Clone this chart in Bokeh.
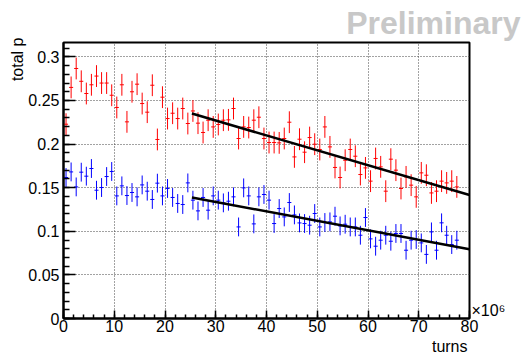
import numpy as np
from bokeh.plotting import figure
from bokeh.models import Range1d, FixedTicker, CustomJSTickFormatter, Title, LinearAxis
from bokeh.embed import file_html
from bokeh.resources import INLINE

# bin centres in units of 10^6 turns
turns = np.arange(78) + 0.5

red_p = [0.2228, 0.2650, 0.2867, 0.2720, 0.2580, 0.2680, 0.2780, 0.2700, 0.2700, 0.2560,
         0.2420, 0.2680, 0.2255, 0.2600, 0.2687, 0.2465, 0.2366, 0.2675, 0.2053, 0.2538,
         0.2293, 0.2354, 0.2293, 0.2408, 0.2236, 0.2380, 0.2240, 0.2133, 0.2274, 0.2197,
         0.2225, 0.2274, 0.2278, 0.2408, 0.2064, 0.2197, 0.2190, 0.2274, 0.2308, 0.2064,
         0.2018, 0.2018, 0.2014, 0.2064, 0.2251, 0.1853, 0.2056, 0.1907, 0.2075, 0.1999,
         0.1938, 0.2197, 0.1968, 0.1732, 0.1617, 0.1815, 0.1938, 0.1861, 0.1651, 0.1727,
         0.1575, 0.1835, 0.1739, 0.1460, 0.1827, 0.1701, 0.1491, 0.1624, 0.1529, 0.1395,
         0.1670, 0.1643, 0.1440, 0.1460, 0.1575, 0.1555, 0.1575, 0.1509]

blue_p = [0.1617, 0.1681, 0.1509, 0.1678, 0.1632, 0.1720, 0.1471, 0.1502, 0.1628, 0.1686,
          0.1406, 0.1521, 0.1410, 0.1445, 0.1395, 0.1532, 0.1460, 0.1365, 0.1552, 0.1406,
          0.1491, 0.1388, 0.1319, 0.1307, 0.1555, 0.1357, 0.1234, 0.1388, 0.1242, 0.1406,
          0.1357, 0.1326, 0.1345, 0.1395, 0.1050, 0.1498, 0.1406, 0.1085, 0.1395, 0.1422,
          0.1357, 0.1089, 0.1261, 0.1165, 0.1330, 0.1188, 0.1096, 0.1089, 0.1070, 0.1204,
          0.1050, 0.1101, 0.1108, 0.1173, 0.1062, 0.1081, 0.1050, 0.1050, 0.0955, 0.1158,
          0.0913, 0.0829, 0.0898, 0.0955, 0.0886, 0.0975, 0.0975, 0.0783, 0.0898, 0.0906,
          0.0867, 0.0735, 0.0993, 0.0783, 0.1097, 0.0955, 0.0848, 0.0898]

red_err = 0.0125
blue_err = 0.0108

fit_x = [25.3, 80.0]
red_fit = [0.2350, 0.1416]
blue_fit = [0.1388, 0.0795]

x_ticks = [0, 10, 20, 30, 40, 50, 60, 70, 80]
y_ticks = [0, 0.05, 0.1, 0.15, 0.2, 0.25, 0.3]

FONT = "Liberation Sans"

p = figure(width=521, height=356, x_range=Range1d(0, 80), y_range=Range1d(0, 0.3165),
           output_backend="svg", toolbar_location=None,
           min_border_left=63, min_border_right=52, min_border_top=42, min_border_bottom=38)
p.background_fill_color = "white"
p.border_fill_color = "white"
p.outline_line_color = "black"
p.outline_line_width = 2

# axes
xa = p.xaxis[0]
xa.ticker = FixedTicker(ticks=x_ticks, minor_ticks=list(np.arange(0, 81, 2)))
ya = p.yaxis[0]
ya.ticker = FixedTicker(ticks=y_ticks, minor_ticks=[round(0.01 * k, 2) for k in range(32)])
ya.formatter = CustomJSTickFormatter(
    code="return tick.toFixed(2).replace(/0+$/, '').replace(/\\.$/, '');")
for ax, mj, mn, so in ((xa, 8, 4, 1), (ya, 12, 6, 4)):
    ax.axis_line_width = 2
    ax.axis_line_color = "black"
    ax.major_tick_in = mj
    ax.major_tick_out = 0
    ax.minor_tick_in = mn
    ax.minor_tick_out = 0
    ax.major_tick_line_width = 1.5
    ax.minor_tick_line_width = 1.5
    ax.major_tick_line_color = "black"
    ax.minor_tick_line_color = "black"
    ax.major_label_text_font = FONT
    ax.major_label_text_font_size = "16px"
    ax.major_label_text_color = "black"
    ax.major_label_standoff = so

# exponent of the x axis, shown as a label on a bare right axis
exp_axis = LinearAxis(ticker=FixedTicker(ticks=[0.009]),
                      formatter=CustomJSTickFormatter(code="return '\u00d710\u2076';"))
exp_axis.axis_line_color = None
exp_axis.major_tick_line_color = None
exp_axis.minor_tick_line_color = None
exp_axis.major_tick_out = 0
exp_axis.major_tick_in = 0
exp_axis.major_label_standoff = 2
exp_axis.major_label_text_font = FONT
exp_axis.major_label_text_font_size = "16px"
exp_axis.major_label_text_color = "black"
p.add_layout(exp_axis, "right")

for g in (p.xgrid[0], p.ygrid[0]):
    g.grid_line_color = "#444444"
    g.grid_line_dash = "1 2"
    g.grid_line_width = 1

# data: error bars
red_lo = [v - red_err for v in red_p]
red_hi = [v + red_err for v in red_p]
blue_lo = [v - blue_err for v in blue_p]
blue_hi = [v + blue_err for v in blue_p]

p.segment(x0=turns, y0=red_lo, x1=turns, y1=red_hi, line_color="#ff0000", line_width=1)
p.segment(x0=turns - 0.4, y0=red_p, x1=turns + 0.4, y1=red_p, line_color="#ff0000", line_width=1)
p.segment(x0=turns, y0=blue_lo, x1=turns, y1=blue_hi, line_color="#0000ff", line_width=1)
p.segment(x0=turns - 0.4, y0=blue_p, x1=turns + 0.4, y1=blue_p, line_color="#0000ff", line_width=1)

# fits
p.line(fit_x, red_fit, line_color="black", line_width=2.5)
p.line(fit_x, blue_fit, line_color="black", line_width=2.5)

# titles
p.title.text = "Preliminary"
p.title.align = "right"
p.title.offset = -51
p.title.standoff = 3
p.title.text_font = FONT
p.title.text_font_size = "32px"
p.title.text_font_style = "bold"
p.title.text_color = "#c8c8c8"

p.add_layout(Title(text="turns", align="right", offset=2, standoff=3,
                   text_font=FONT, text_font_size="16px", text_font_style="normal",
                   text_color="black"), "below")
p.add_layout(Title(text="total p", align="right", offset=-5, standoff=0,
                   text_font=FONT, text_font_size="16px", text_font_style="normal",
                   text_color="black"), "left")

open("out.html", "w").write(file_html(p, INLINE))
